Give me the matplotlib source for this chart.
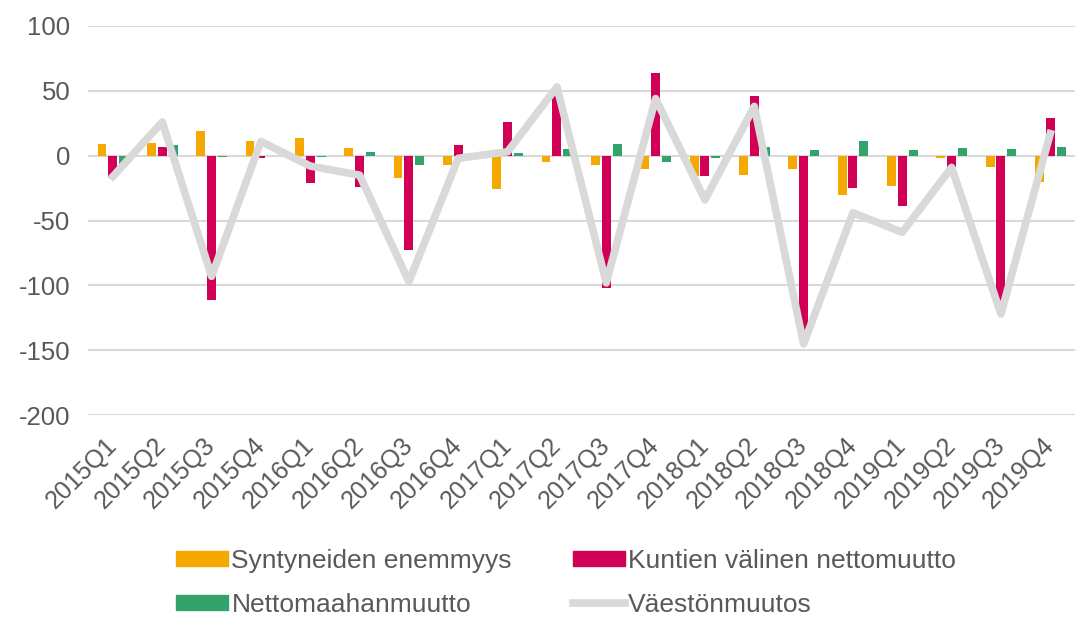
import numpy as np
import matplotlib.pyplot as plt
import matplotlib.transforms as mtransforms
from matplotlib.patches import Patch
from matplotlib.lines import Line2D

plt.rcParams['font.family'] = ['Liberation Sans', 'DejaVu Sans']
plt.rcParams['axes.unicode_minus'] = False

quarters = ['2015Q1', '2015Q2', '2015Q3', '2015Q4',
            '2016Q1', '2016Q2', '2016Q3', '2016Q4',
            '2017Q1', '2017Q2', '2017Q3', '2017Q4',
            '2018Q1', '2018Q2', '2018Q3', '2018Q4',
            '2019Q1', '2019Q2', '2019Q3', '2019Q4']

syntyneet = [9, 10, 19, 11, 14, 6, -17, -7, -26, -5, -7, -10, -16, -15, -10, -30, -23, -2, -9, -20]
kuntien = [-17, 7, -111, -2, -21, -24, -73, 8, 26, 53, -102, 64, -16, 46, -140, -25, -39, -9, -113, 29]
maahanmuutto = [-8, 8, -1, 0, -1, 3, -7, 0, 2, 5, 9, -5, -2, 7, 4, 11, 4, 6, 5, 7]
vaesto = [-16, 26, -93, 11, -8, -15, -97, -2, 3, 53, -98, 44, -34, 38, -145, -44, -59, -9, -122, 17]

c_or = '#F5A800'
c_red = '#D10056'
c_gr = '#33A36C'
c_line = '#D9D9D9'
c_txt = '#595959'

fig = plt.figure(figsize=(10.76, 6.17), dpi=100)
ax = fig.add_axes([0.082, 0.327, 0.917, 0.631])

x = np.arange(len(quarters))
w = 0.18
ax.bar(x - 0.22, syntyneet, w, color=c_or, zorder=2)
ax.bar(x, kuntien, w, color=c_red, zorder=2)
ax.bar(x + 0.22, maahanmuutto, w, color=c_gr, zorder=2)
ax.plot(x, vaesto, color=c_line, lw=5.5, zorder=3)

ax.set_ylim(-200, 100)
ax.set_xlim(-0.5, len(quarters) - 0.5)
ax.set_yticks(range(-200, 101, 50))
ax.yaxis.grid(True, color='#D9D9D9', lw=1.5, zorder=0)
ax.set_axisbelow(True)
for s in ax.spines.values():
    s.set_visible(False)
ax.tick_params(length=0, labelsize=18.5, colors=c_txt, pad=13)
ax.set_xticks(x)
ax.set_xticklabels(quarters, rotation=45, ha='right', rotation_mode='anchor')
ax.tick_params(axis='x', pad=13, labelsize=18)
shift = mtransforms.ScaledTranslation(-6 / 72, 0, fig.dpi_scale_trans)
for lab in ax.get_xticklabels():
    lab.set_transform(lab.get_transform() + shift)

handles = [Patch(color=c_or), Patch(color=c_gr), Patch(color=c_red),
           Line2D([0], [0], color=c_line, lw=5.5)]
labels = ['Syntyneiden enemmyys', 'Nettomaahanmuutto',
          'Kuntien välinen nettomuutto', 'Väestönmuutos']
fig.legend(handles, labels, ncol=2, loc='lower center', bbox_to_anchor=(0.526, -0.038),
           frameon=False, fontsize=19, labelcolor=c_txt, handlelength=1.97,
           handleheight=0.52, handletextpad=0.12, columnspacing=2.3, labelspacing=0.75)

fig.savefig('out.png', dpi=100)
